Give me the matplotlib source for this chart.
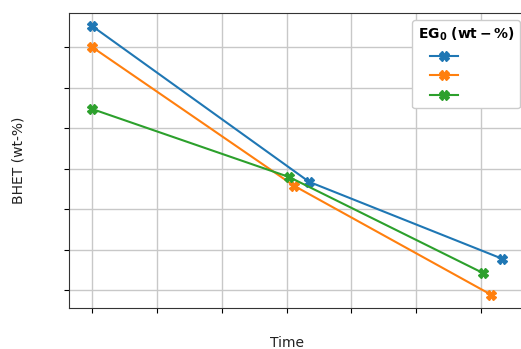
import matplotlib.pyplot as plt

# values (tick labels are hidden in the original)
x_blue = [0, 3.35, 6.33]
y_blue = [6.52, 2.67, 0.77]
x_orange = [0, 3.12, 6.16]
y_orange = [6.0, 2.57, -0.12]
x_green = [0, 3.04, 6.03]
y_green = [4.47, 2.79, 0.42]

series = [(x_blue, y_blue, '#1f77b4'),
          (x_orange, y_orange, '#ff7f0e'),
          (x_green, y_green, '#2ca02c')]

fig = plt.figure(figsize=(5.21, 3.49), dpi=100)
ax = fig.add_axes([69 / 521, 1 - 308 / 349, 460 / 521, 295 / 349])

handles = []
for xs, ys, c in series:
    h, = ax.plot(xs, ys, color=c, marker='X', markersize=7, linewidth=1.5)
    handles.append(h)

ax.set_xlim(-0.355, 6.74)
ax.set_ylim(-0.444, 6.84)
ax.set_xticks(range(7))
ax.set_yticks(range(7))
ax.set_xticklabels([])
ax.set_yticklabels([])
ax.grid(True, color='#c8c8c8', linewidth=1)
ax.set_axisbelow(True)
for s in ax.spines.values():
    s.set_color('#333333')

ax.set_xlabel('Time', fontsize=10, color='#222222')
ax.set_ylabel('BHET (wt-%)', fontsize=10, color='#222222')
ax.xaxis.set_label_coords(0.5 * (287 - 69) / 230, -0.095)
ax.yaxis.set_label_coords(-0.094, 0.5)

# labels are blank in the original; spaces keep the handles indented
blank = ' ' * 10
leg = ax.legend(handles, [blank] * 3, title=r'$\mathbf{EG_0\ (wt-\%)}$',
                loc='upper left', bbox_to_anchor=(0.746, 0.976),
                borderaxespad=0, handlelength=2.2, handletextpad=0.3,
                labelspacing=0.55, borderpad=0.45,
                fontsize=9, title_fontsize=10, framealpha=1)

fig.savefig('out.png', dpi=100)
